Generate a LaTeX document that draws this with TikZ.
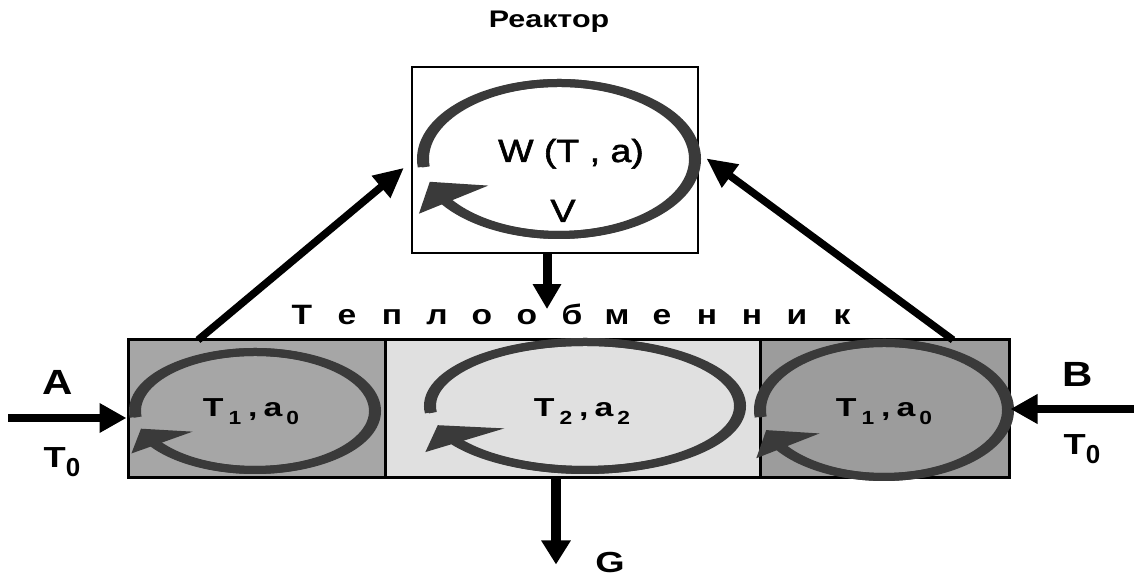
\documentclass[tikz,border=0pt]{standalone}
\usepackage{graphicx}
\usepackage{fontspec}
\setmainfont{Liberation Sans}
\newfontfamily\mediumfont{Liberation Sans}[FakeBold=1.6]
\usetikzlibrary{arrows.meta}

\definecolor{loopgray}{RGB}{58,58,58}
\definecolor{sidefill}{RGB}{166,166,166}
\definecolor{sidefillr}{RGB}{156,156,156}
\definecolor{midfill}{RGB}{224,224,224}

% horizontally widened glyphs
\newcommand{\wide}[1]{\scalebox{1.2}[1]{#1}}
\newcommand{\wider}[1]{\scalebox{1.3}[1]{#1}}
% lowered index of a cell label
\newcommand{\cellidx}[1]{\raisebox{-8pt}{\fontsize{19pt}{19pt}\selectfont\wide{#1}}}
% lowered index of an inflow temperature
\newcommand{\inidx}[1]{\raisebox{-9pt}{\fontsize{26pt}{26pt}\selectfont #1}}
% one letter of the letter-spaced caption
\newcommand{\spacedletter}[1]{\makebox[45pt]{\wide{#1}}}
% cell label: quantity, index, comma, quantity, index
\newcommand{\cellpair}[4]{\wider{#1}\hspace{5pt}\cellidx{#2}\hspace{7pt}\wider{,}\hspace{6pt}\wider{#3}\hspace{4pt}\cellidx{#4}}

% circulation symbol: open ellipse, heavier at its sides, with a slanted head at lower left
\newcommand{\cycleglyph}[4]{%
  \begin{scope}[shift={(#1,#2)}, xscale=#3-2, yscale=#4]
    \draw[loopline] (186:1) arc[start angle=186, end angle=-149, x radius=1, y radius=1];
  \end{scope}
  \begin{scope}[shift={(#1,#2)}, xscale=#3+2, yscale=#4]
    \draw[loopline] (186:1) arc[start angle=186, end angle=-147, x radius=1, y radius=1];
  \end{scope}
  \begin{scope}[shift={(#1,#2)}, xscale=#3, yscale=#4]
    \fill[loopgray] (-1.03,-0.72) -- (-0.95,-0.30) -- (-0.52,-0.35) -- cycle;
  \end{scope}}

\tikzset{
  cellbox/.style={draw=black, line width=3pt, inner sep=0pt, minimum height=138pt},
  loopline/.style={draw=loopgray, line width=8pt},
  flowarrow/.style={line width=8.5pt, -{Triangle[length=27pt,width=28pt]}},
  feedarrow/.style={line width=7.5pt, -{Triangle[length=30pt,width=27pt]}},
  lab/.style={inner sep=0pt, anchor=base},
  boldtext/.style={font=\fontsize{26pt}{28pt}\selectfont\bfseries},
}

\begin{document}
\begin{tikzpicture}[x=1pt, y=1pt]
  \useasboundingbox[fill=white] (0,0) rectangle (1134,580);

  % reactor
  \node[draw=black, line width=2.2pt, minimum width=286pt, minimum height=186pt, inner sep=0pt] (reactor) at (555,420) {};
  \cycleglyph{559}{421}{136}{76}
  \node[lab, font=\mediumfont\fontsize{32pt}{34pt}\selectfont] (rate) at (571,418) {\scalebox{1.17}[1]{W (T , a)}};
  \node[lab, font=\mediumfont\fontsize{32pt}{34pt}\selectfont] (vol) at (563,358) {\scalebox{1.17}[1]{V}};
  \node[lab, font=\fontsize{24pt}{26pt}\selectfont\bfseries] (rtitle) at (549,552) {\scalebox{1.27}[1]{Реактор}};

  % heat exchanger cells
  \node[cellbox, fill=sidefill, minimum width=257pt] (lcell) at (256.5,171) {};
  \node[cellbox, fill=midfill, minimum width=375pt] (ccell) at (572.5,171) {};
  \node[cellbox, fill=sidefillr, minimum width=249pt] (rcell) at (884.5,171) {};
  \cycleglyph{255}{169}{120}{59}
  \cycleglyph{585}{174}{155}{64}
  \cycleglyph{884}{170}{124}{67}

  \node[lab, boldtext] (ltext) at (251,163) {\cellpair{T}{1}{a}{0}};
  \node[lab, boldtext] (ctext) at (582,163) {\cellpair{T}{2}{a}{2}};
  \node[lab, boldtext] (rtext) at (884,163) {\cellpair{T}{1}{a}{0}};

  % letter-spaced caption of the exchanger
  \node[lab, font=\fontsize{28pt}{30pt}\selectfont\bfseries] (xtitle) at (572,255)
    {\spacedletter{Т}\spacedletter{е}\spacedletter{п}\spacedletter{л}\spacedletter{о}\spacedletter{о}\spacedletter{б}\spacedletter{м}\spacedletter{е}\spacedletter{н}\spacedletter{н}\spacedletter{и}\spacedletter{к}};

  % inflows
  \coordinate (ain) at (8,162);
  \coordinate (bin) at (1134,171);
  \draw[flowarrow] (ain) -- (ain -| lcell.west);
  \draw[flowarrow] (bin) -- (bin -| rcell.east);
  \node[lab, font=\fontsize{35pt}{37pt}\selectfont\bfseries] (alab) at (58,185) {\wide{A}};
  \node[lab, font=\fontsize{29pt}{31pt}\selectfont\bfseries] (at0) at (62,112) {\scalebox{1.25}[1]{T}\inidx{0}};
  \node[lab, font=\fontsize{35pt}{37pt}\selectfont\bfseries] (blab) at (1078,193) {\wide{B}};
  \node[lab, font=\fontsize{29pt}{31pt}\selectfont\bfseries] (bt0) at (1082,125) {\scalebox{1.25}[1]{T}\inidx{0}};

  % feeds into the reactor
  \coordinate (lfeed) at (198,240);
  \coordinate (rfeed) at (953,240);
  \draw[feedarrow, shorten >=9pt] (lfeed) -- ([yshift=-2pt]reactor.west);
  \draw[feedarrow, shorten >=9pt] (rfeed) -- ([yshift=7pt]reactor.east);

  % reactor to exchanger, product outflow
  \draw[line width=9pt, -{Triangle[length=25pt,width=27pt]}] ([xshift=-8pt]reactor.south) -- ++(0,-55);
  \draw[line width=10pt, -{Triangle[length=24pt,width=28pt]}] ([xshift=-16.5pt]ccell.south) -- ++(0,-85);
  \node[lab, font=\fontsize{29pt}{31pt}\selectfont\bfseries] (glab) at (610,7) {\wider{G}};
\end{tikzpicture}
\end{document}
